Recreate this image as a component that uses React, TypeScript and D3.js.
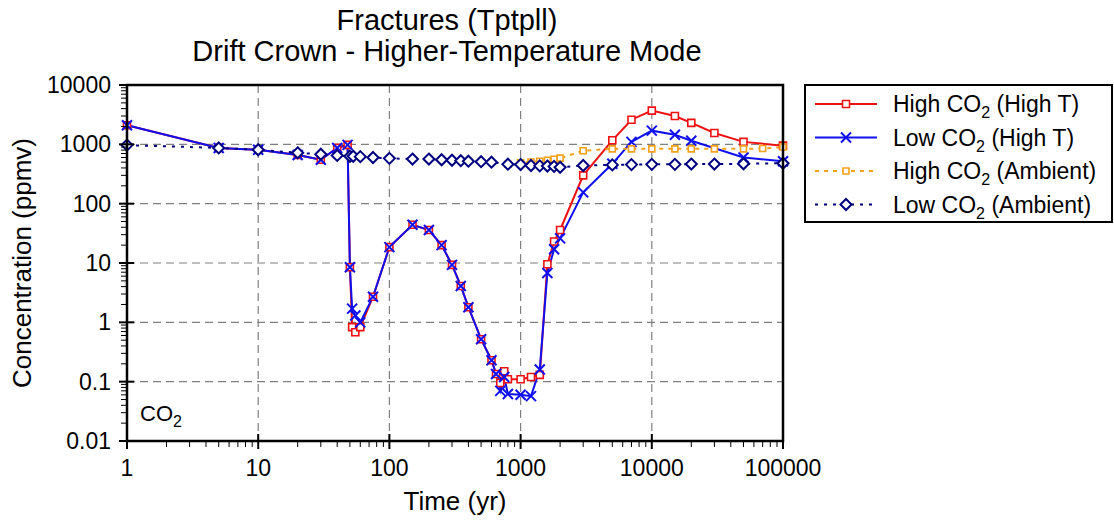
import React from 'react';
import * as d3 from 'd3';

// High-temperature runs share most time steps
const redTimes = [1, 5, 10, 20, 30, 40, 48, 50, 52, 55, 60, 75, 100, 150, 200, 250, 300, 350, 400, 500, 600, 650, 700, 750, 800, 1000, 1200, 1400, 1600, 1800, 2000, 3000, 5000, 7000, 10000, 15000, 20000, 30000, 50000, 100000];
const redValues = [2100, 870, 810, 660, 550, 870, 980, 8.5, 0.83, 0.68, 0.83, 2.7, 18.5, 44, 36, 20, 9.3, 4.1, 1.8, 0.52, 0.23, 0.135, 0.095, 0.15, 0.11, 0.11, 0.12, 0.13, 9.5, 23, 36, 300, 1170, 2600, 3700, 3000, 2300, 1550, 1100, 950];

const blueTimes = [1, 5, 10, 20, 30, 40, 48, 50, 52, 55, 60, 75, 100, 150, 200, 250, 300, 350, 400, 500, 600, 650, 700, 750, 800, 1000, 1200, 1400, 1600, 1800, 2000, 3000, 5000, 7000, 10000, 15000, 20000, 50000, 100000];
const blueValues = [2100, 870, 810, 660, 550, 870, 980, 8.5, 1.7, 1.3, 1.0, 2.7, 18.5, 44, 36, 20, 9.3, 4.1, 1.8, 0.52, 0.23, 0.135, 0.07, 0.12, 0.062, 0.06, 0.057, 0.16, 6.8, 17, 26, 155, 470, 1100, 1700, 1450, 1150, 600, 520];

const navyTimes = [1, 5, 10, 20, 30, 40, 50, 53, 60, 75, 100, 150, 200, 250, 300, 350, 400, 500, 600, 800, 1000, 1200, 1400, 1600, 1800, 2000, 3000, 5000, 7000, 10000, 15000, 20000, 30000, 50000, 100000];
const navyValues = [970, 870, 810, 720, 680, 650, 630, 630, 620, 600, 580, 565, 565, 550, 540, 530, 520, 510, 500, 463, 456, 440, 434, 430, 425, 410, 440, 450, 455, 460, 460, 465, 465, 470, 480];

const orangeTimes = [800, 1000, 1200, 1400, 1600, 1800, 2000, 3000, 5000, 7000, 10000, 15000, 20000, 30000, 50000, 70000, 100000];
const orangeValues = [463, 490, 505, 520, 540, 560, 585, 780, 840, 840, 840, 840, 840, 840, 840, 850, 900];

const xTicks = [1, 10, 100, 1000, 10000, 100000];
const yTicks = [0.01, 0.1, 1, 10, 100, 1000, 10000];
const yTickLabels = ['0.01', '0.1', '1', '10', '100', '1000', '10000'];

const legendNames = [
  ['High CO', ' (High T)'],
  ['Low CO', ' (High T)'],
  ['High CO', ' (Ambient)'],
  ['Low CO', ' (Ambient)'],
];

const FONT = '"Liberation Sans", Arial, sans-serif';
const W = 1114;
const H = 524;
const left = 127, right = 783, top = 85, bottom = 441;

const x = d3.scaleLog().domain([1, 1e5]).range([left, right]);
const y = d3.scaleLog().domain([0.01, 1e4]).range([bottom, top]);

const lineGen = d3.line<[number, number]>()
  .x(d => x(d[0]))
  .y(d => y(d[1]));

const zip = (t: number[], v: number[]) => t.map((tt, i) => [tt, v[i]] as [number, number]);

const square = (cx: number, cy: number, s: number) =>
  `M${cx - s},${cy - s}H${cx + s}V${cy + s}H${cx - s}Z`;
const cross = (cx: number, cy: number, s: number) =>
  `M${cx - s},${cy - s}L${cx + s},${cy + s}M${cx - s},${cy + s}L${cx + s},${cy - s}`;
const diamond = (cx: number, cy: number, s: number) =>
  `M${cx},${cy - s}L${cx + s},${cy}L${cx},${cy + s}L${cx - s},${cy}Z`;

const series = [
  { data: zip(redTimes, redValues), color: '#ee1111', dash: 'none', marker: 'square' },
  { data: zip(blueTimes, blueValues), color: '#1010ee', dash: 'none', marker: 'cross' },
  { data: zip(orangeTimes, orangeValues), color: '#f5a01a', dash: '4,5', marker: 'osquare' },
  { data: zip(navyTimes, navyValues), color: '#000080', dash: '3,6', marker: 'diamond' },
];

function Marker({ kind, cx, cy, color }: { kind: string; cx: number; cy: number; color: string }) {
  if (kind === 'square')
    return <path d={square(cx, cy, 3.5)} fill="white" stroke={color} strokeWidth={1.6} />;
  if (kind === 'osquare')
    return <path d={square(cx, cy, 3)} fill="white" stroke={color} strokeWidth={1.6} />;
  if (kind === 'cross')
    return <path d={cross(cx, cy, 5)} fill="none" stroke={color} strokeWidth={2} />;
  return <path d={diamond(cx, cy, 5.5)} fill="white" stroke={color} strokeWidth={2} />;
}

function minorTicks(lo: number, hi: number) {
  const out: number[] = [];
  for (let d = lo; d < hi; d *= 10) {
    for (let k = 2; k <= 9; k++) out.push(d * k);
  }
  return out;
}

export default function App() {
  const xMinor = minorTicks(1, 1e5);
  const yMinor = minorTicks(0.01, 1e4);

  return (
    <svg width={W} height={H} style={{ display: 'block', position: 'absolute', left: 0, top: 0, background: 'white' }} fontFamily={FONT}>
      {/* title */}
      <text x={447} y={30} textAnchor="middle" fontSize={29}>Fractures (Tptpll)</text>
      <text x={447} y={61} textAnchor="middle" fontSize={29}>Drift Crown - Higher-Temperature Mode</text>

      {/* grid */}
      {xTicks.slice(1, -1).map(t => (
        <line key={'gx' + t} x1={x(t)} x2={x(t)} y1={top} y2={bottom} stroke="#808080" strokeWidth={1.2} strokeDasharray="8,5" />
      ))}
      {yTicks.slice(1, -1).map(t => (
        <line key={'gy' + t} x1={left} x2={right} y1={y(t)} y2={y(t)} stroke="#808080" strokeWidth={1.2} strokeDasharray="8,5" />
      ))}

      {/* series */}
      {series.map((s, i) => (
        <path key={'l' + i} d={lineGen(s.data) || ''} fill="none" stroke={s.color} strokeWidth={2} strokeDasharray={s.dash} />
      ))}
      {series.map((s, i) => (
        <g key={'m' + i}>
          {s.data.map((d, j) => (
            <Marker key={j} kind={s.marker} cx={x(d[0])} cy={y(d[1])} color={s.color} />
          ))}
        </g>
      ))}

      {/* frame */}
      <rect x={left} y={top} width={right - left} height={bottom - top} fill="none" stroke="black" strokeWidth={2.5} />

      {/* x ticks */}
      {xMinor.map(t => (
        <line key={'xm' + t} x1={x(t)} x2={x(t)} y1={bottom} y2={bottom + 6} stroke="black" strokeWidth={1} />
      ))}
      {xTicks.map(t => (
        <line key={'xt' + t} x1={x(t)} x2={x(t)} y1={bottom - 7} y2={bottom + 8} stroke="black" strokeWidth={2} />
      ))}
      {xTicks.map(t => (
        <text key={'xl' + t} x={x(t)} y={bottom + 35} textAnchor="middle" fontSize={23}>{String(t)}</text>
      ))}

      {/* y ticks */}
      {yMinor.map(t => (
        <line key={'ym' + t} x1={left - 6} x2={left} y1={y(t)} y2={y(t)} stroke="black" strokeWidth={1} />
      ))}
      {yTicks.map(t => (
        <line key={'yt' + t} x1={left - 8} x2={left + 7} y1={y(t)} y2={y(t)} stroke="black" strokeWidth={2} />
      ))}
      {yTicks.map((t, i) => (
        <text key={'yl' + t} x={left - 16} y={y(t) + 8} textAnchor="end" fontSize={23}>{yTickLabels[i]}</text>
      ))}

      {/* axis titles */}
      <text x={455} y={510} textAnchor="middle" fontSize={26}>Time (yr)</text>
      <text transform={`translate(31,${(top + bottom) / 2}) rotate(-90)`} textAnchor="middle" fontSize={26}>Concentration (ppmv)</text>

      {/* CO2 label */}
      <text x={140} y={421} fontSize={22}>CO<tspan dy={6} fontSize={16}>2</tspan></text>

      {/* legend */}
      <rect x={805} y={85} width={307} height={137} fill="white" stroke="black" strokeWidth={2} />
      {series.map((s, i) => {
        const ly = 104 + i * 33.5;
        return (
          <g key={'lg' + i}>
            <line x1={815} x2={877} y1={ly} y2={ly} stroke={s.color} strokeWidth={2} strokeDasharray={s.dash} />
            <Marker kind={s.marker} cx={846} cy={ly} color={s.color} />
            <text x={893} y={ly + 8} fontSize={23}>
              {legendNames[i][0]}
              <tspan dy={6} fontSize={16}>2</tspan>
              <tspan dy={-6}>{legendNames[i][1]}</tspan>
            </text>
          </g>
        );
      })}
    </svg>
  );
}
